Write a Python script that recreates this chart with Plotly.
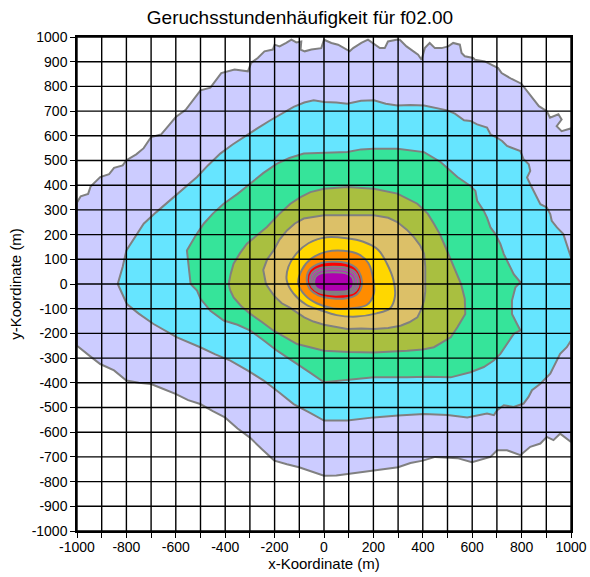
import plotly.graph_objects as go

# Contour band boundaries of the odour-hour frequency field (metres).
# Each band is a closed outline; bands are listed from the outermost inwards.

lavender_x = [-1000, -1000, -985, -955, -945, -906, -870, -850, -815, -800, -760, -730, -700, -660, -630, -600,
              -560, -530, -500, -460, -416, -362, -308, -295, -268, -241, -207, -200, -180, -153, -132, -112,
              -92, -95, -78, -51, -11, 0, 30, 57, 84, 104, 118, 151, 178, 205, 226, 246, 259, 293, 307, 334,
              354, 381, 395, 408, 428, 449, 476, 503, 523, 550, 557, 570, 604, 611, 651, 678, 705, 719, 760,
              799, 840, 870, 902, 915, 949, 962, 942, 962, 1000, 1000, 956, 929, 902, 876, 835, 795, 741, 701,
              674, 633, 599, 540, 499, 450, 400, 350, 300, 250, 200, 150, 100, 50, 0, -50, -101, -150, -201,
              -250, -301, -350, -401, -450, -501, -550, -601, -650, -700, -750, -800, -850, -906, -950, -1000]
lavender_y = [-250, 330, 355, 365, 395, 433, 445, 470, 480, 501, 525, 550, 595, 605, 640, 676,
              705, 745, 784, 795, 854, 868, 861, 895, 915, 942, 949, 969, 962, 976, 989, 978,
              982, 949, 942, 949, 955, 989, 976, 969, 955, 942, 955, 976, 989, 969, 955, 955, 982, 989, 989, 962,
              949, 928, 908, 955, 976, 955, 955, 962, 976, 969, 935, 922, 915, 908, 901, 888, 874, 854, 830,
              811, 760, 720, 700, 673, 687, 666, 639, 619, 630, -640, -606, -632, -619, -646, -659, -693, -673, -673,
              -700, -713, -722, -705, -702, -700, -715, -725, -742, -748, -756, -760, -769, -775, -776, -760, -742, -730, -715,
              -670, -621, -585, -540, -515, -486, -470, -445, -425, -405, -400, -391, -350, -324, -290, -250]

cyan_x = [-835, -815, -800, -765, -730, -680, -622, -570, -514, -470, -420, -370, -325, -270, -217, -170, -123,
          -80, -42, 0, 50, 94, 150, 202, 250, 297, 350, 405, 450, 499, 530, 567, 593, 620, 660, 674, 701, 721,
          741, 795, 808, 829, 835, 822, 835, 849, 862, 876, 902, 916, 922, 943, 969, 983, 1000, 1000, 983, 956,
          929, 916, 876, 842, 828, 808, 768, 728, 701, 688, 660, 593, 580, 500, 405, 300, 202, 94, 0, -60,
          -123, -180, -244, -310, -379, -440, -501, -595, -640, -690, -750, -798, -835]
cyan_y = [0, 70, 136, 190, 244, 290, 339, 385, 433, 480, 528, 565, 595, 630, 663, 690, 717,
          735, 744, 737, 735, 730, 742, 744, 730, 723, 725, 723, 712, 703, 690, 663, 660, 646, 633, 606, 592, 579,
          559, 538, 505, 485, 458, 431, 404, 377, 350, 323, 310, 283, 256, 229, 202, 162, 108, -229, -256, -283,
          -336, -363, -404, -430, -457, -484, -498, -491, -511, -531, -524, -538, -540, -530, -526, -532, -540, -553, -553, -520,
          -486, -440, -391, -350, -310, -285, -256, -216, -190, -162, -120, -81, 0]

mint_x = [-540, -548, -555, -520, -487, -450, -406, -350, -298, -245, -190, -140, -82, 0, 94, 150, 202, 297,
          360, 405, 472, 540, 593, 613, 620, 647, 660, 674, 694, 714, 728, 741, 755, 768, 795, 775, 761, 761,
          781, 795, 768, 741, 714, 687, 647, 593, 513, 420, 337, 202, 81, 0, -55, -109, -190, -245, -298, -350,
          -406, -460, -500, -514, -540]
mint_y = [0, 70, 136, 195, 244, 285, 325, 365, 406, 450, 487, 510, 528, 531, 534, 545, 548, 548,
          540, 534, 494, 433, 397, 377, 337, 296, 269, 229, 202, 162, 121, 94, 67, 40, 7, -13, -67, -121,
          -161, -188, -202, -242, -283, -310, -336, -357, -378, -375, -378, -378, -391, -398, -360, -324, -270, -228, -189, -165,
          -148, -108, -60, -27, 0]

olive_x = [-386, -378, -366, -340, -312, -270, -231, -185, -136, -95, -55, 0, 94, 202, 297, 378, 420, 445, 470,
           486, 505, 520, 540, 555, 570, 572, 540, 513, 445, 400, 337, 202, 100, 0, -109, -160, -204, -250, -298,
           -335, -366, -380, -386]
olive_y = [0, 40, 82, 125, 163, 200, 231, 280, 325, 352, 372, 386, 393, 386, 366, 325, 285, 244, 200,
           163, 120, 82, 40, 0, -60, -121, -175, -216, -256, -265, -270, -277, -275, -270, -243, -215, -189, -155, -121,
           -90, -54, -25, 0]

tan_x = [-235, -246, -230, -204, -180, -150, -118, -82, 0, 94, 202, 260, 297, 335, 364, 390, 405, 410, 409, 410,
         405, 395, 378, 345, 310, 260, 202, 150, 94, 51, 0, -43, -80, -110, -140, -171, -200, -219, -235]
tan_y = [0, 57, 100, 136, 180, 217, 245, 265, 278, 278, 278, 268, 251, 220, 190, 155, 123, 70, 16, -30,
         -67, -100, -135, -155, -169, -178, -182, -180, -182, -173, -165, -152, -135, -115, -95, -78, -50, -24, 0]

yellow_x = [-151, -144, -111, -63, 11, 92, 159, 220, 254, 281, 287, 267, 213, 132, 51, -16, -70, -124, -151]
yellow_y = [16, 70, 124, 165, 189, 185, 171, 138, 84, 16, -51, -99, -119, -132, -126, -105, -85, -38, 16]

orange_x = [-104, -90, -50, 11, 78, 139, 180, 200, 202, 173, 105, 38, -30, -77, -104]
orange_y = [3, 57, 104, 131, 135, 121, 84, 16, -38, -85, -99, -99, -78, -45, 3]

red_x = [-70, -60, -25, 30, 90, 130, 150, 152, 135, 90, 30, -25, -58, -70]
red_y = [16, 55, 80, 90, 85, 65, 30, -10, -40, -58, -58, -45, -20, 16]

magenta_x = [-57, -48, -15, 35, 90, 125, 140, 138, 118, 75, 25, -20, -48, -57]
magenta_y = [14, 45, 65, 70, 66, 50, 20, -12, -35, -42, -42, -33, -12, 14]

violet_x = [-48, -40, -10, 38, 88, 118, 130, 127, 108, 68, 20, -18, -40, -48]
violet_y = [12, 38, 55, 60, 56, 42, 15, -12, -31, -37, -36, -28, -10, 12]

purple_x = [-40, -32, -5, 40, 85, 112, 120, 115, 95, 55, 10, -22, -37, -40]
purple_y = [10, 32, 45, 48, 44, 30, 8, -15, -28, -31, -30, -22, -8, 10]

bands = [
    (lavender_x, lavender_y), (cyan_x, cyan_y), (mint_x, mint_y), (olive_x, olive_y),
    (tan_x, tan_y), (yellow_x, yellow_y), (orange_x, orange_y), (red_x, red_y),
    (magenta_x, magenta_y), (violet_x, violet_y), (purple_x, purple_y),
]
band_colors = ["#ccccff", "#66e5ff", "#36e49a", "#a9bf40", "#dcc068", "#ffd700",
               "#ff8c00", "#ff0000", "#e619c0", "#c814c8", "#b000b0"]
smooth_from = 5  # inner bands are drawn with smoothed outlines

grid_ticks = [-1000, -900, -800, -700, -600, -500, -400, -300, -200, -100, 0,
              100, 200, 300, 400, 500, 600, 700, 800, 900, 1000]
x_tick_labels = [-1000, -800, -600, -400, -200, 0, 200, 400, 600, 800, 1000]

fig = go.Figure()

for i, ((bx, by), col) in enumerate(zip(bands, band_colors)):
    fig.add_trace(go.Scatter(
        x=bx, y=by, mode="lines", fill="toself", fillcolor=col,
        line=dict(color="#808080", width=2,
                  shape="spline" if i >= smooth_from else "linear", smoothing=0.9),
        hoverinfo="skip", showlegend=False,
    ))

# 100 m grid drawn above the filled bands
gx, gy = [], []
for t in grid_ticks:
    gx += [t, t, None]
    gy += [grid_ticks[0], grid_ticks[-1], None]
    gx += [grid_ticks[0], grid_ticks[-1], None]
    gy += [t, t, None]
fig.add_trace(go.Scatter(x=gx, y=gy, mode="lines",
                         line=dict(color="black", width=1.4),
                         hoverinfo="skip", showlegend=False))

font_family = "Liberation Sans, Arial, sans-serif"

fig.update_layout(
    width=590, height=577,
    margin=dict(l=77, r=19, t=37, b=46, autoexpand=False),
    paper_bgcolor="white", plot_bgcolor="white",
    font=dict(family=font_family, size=14, color="black"),
    title=dict(text="Geruchsstundenhäufigkeit für f02.00", x=300 / 590, xref="container",
               y=1 - 17 / 577, yref="container", yanchor="middle", xanchor="center",
               font=dict(size=19, family=font_family, color="black")),
    showlegend=False,
)

fig.update_xaxes(
    range=[-1000, 1000], tickvals=x_tick_labels, ticktext=[str(v) for v in x_tick_labels],
    ticks="outside", ticklen=5, tickwidth=1, tickcolor="black", automargin=False,
    ticklabelstandoff=-3,
    minor=dict(tickvals=grid_ticks, ticks="outside", ticklen=5, tickcolor="black", showgrid=False),
    showgrid=False, zeroline=False, showline=True, linecolor="black", linewidth=1.5, mirror=True,
    title=dict(text="x-Koordinate (m)", font=dict(size=15), standoff=0),
)
fig.update_yaxes(
    range=[-1000, 1000], tickvals=grid_ticks, ticktext=[str(v) for v in grid_ticks],
    ticks="outside", ticklen=5, tickwidth=1, tickcolor="black", automargin=False,
    showgrid=False, zeroline=False, showline=True, linecolor="black", linewidth=1.5, mirror=True,
    title=dict(text="y-Koordinate (m)", font=dict(size=15), standoff=6),
)

fig.write_html("out.html")
